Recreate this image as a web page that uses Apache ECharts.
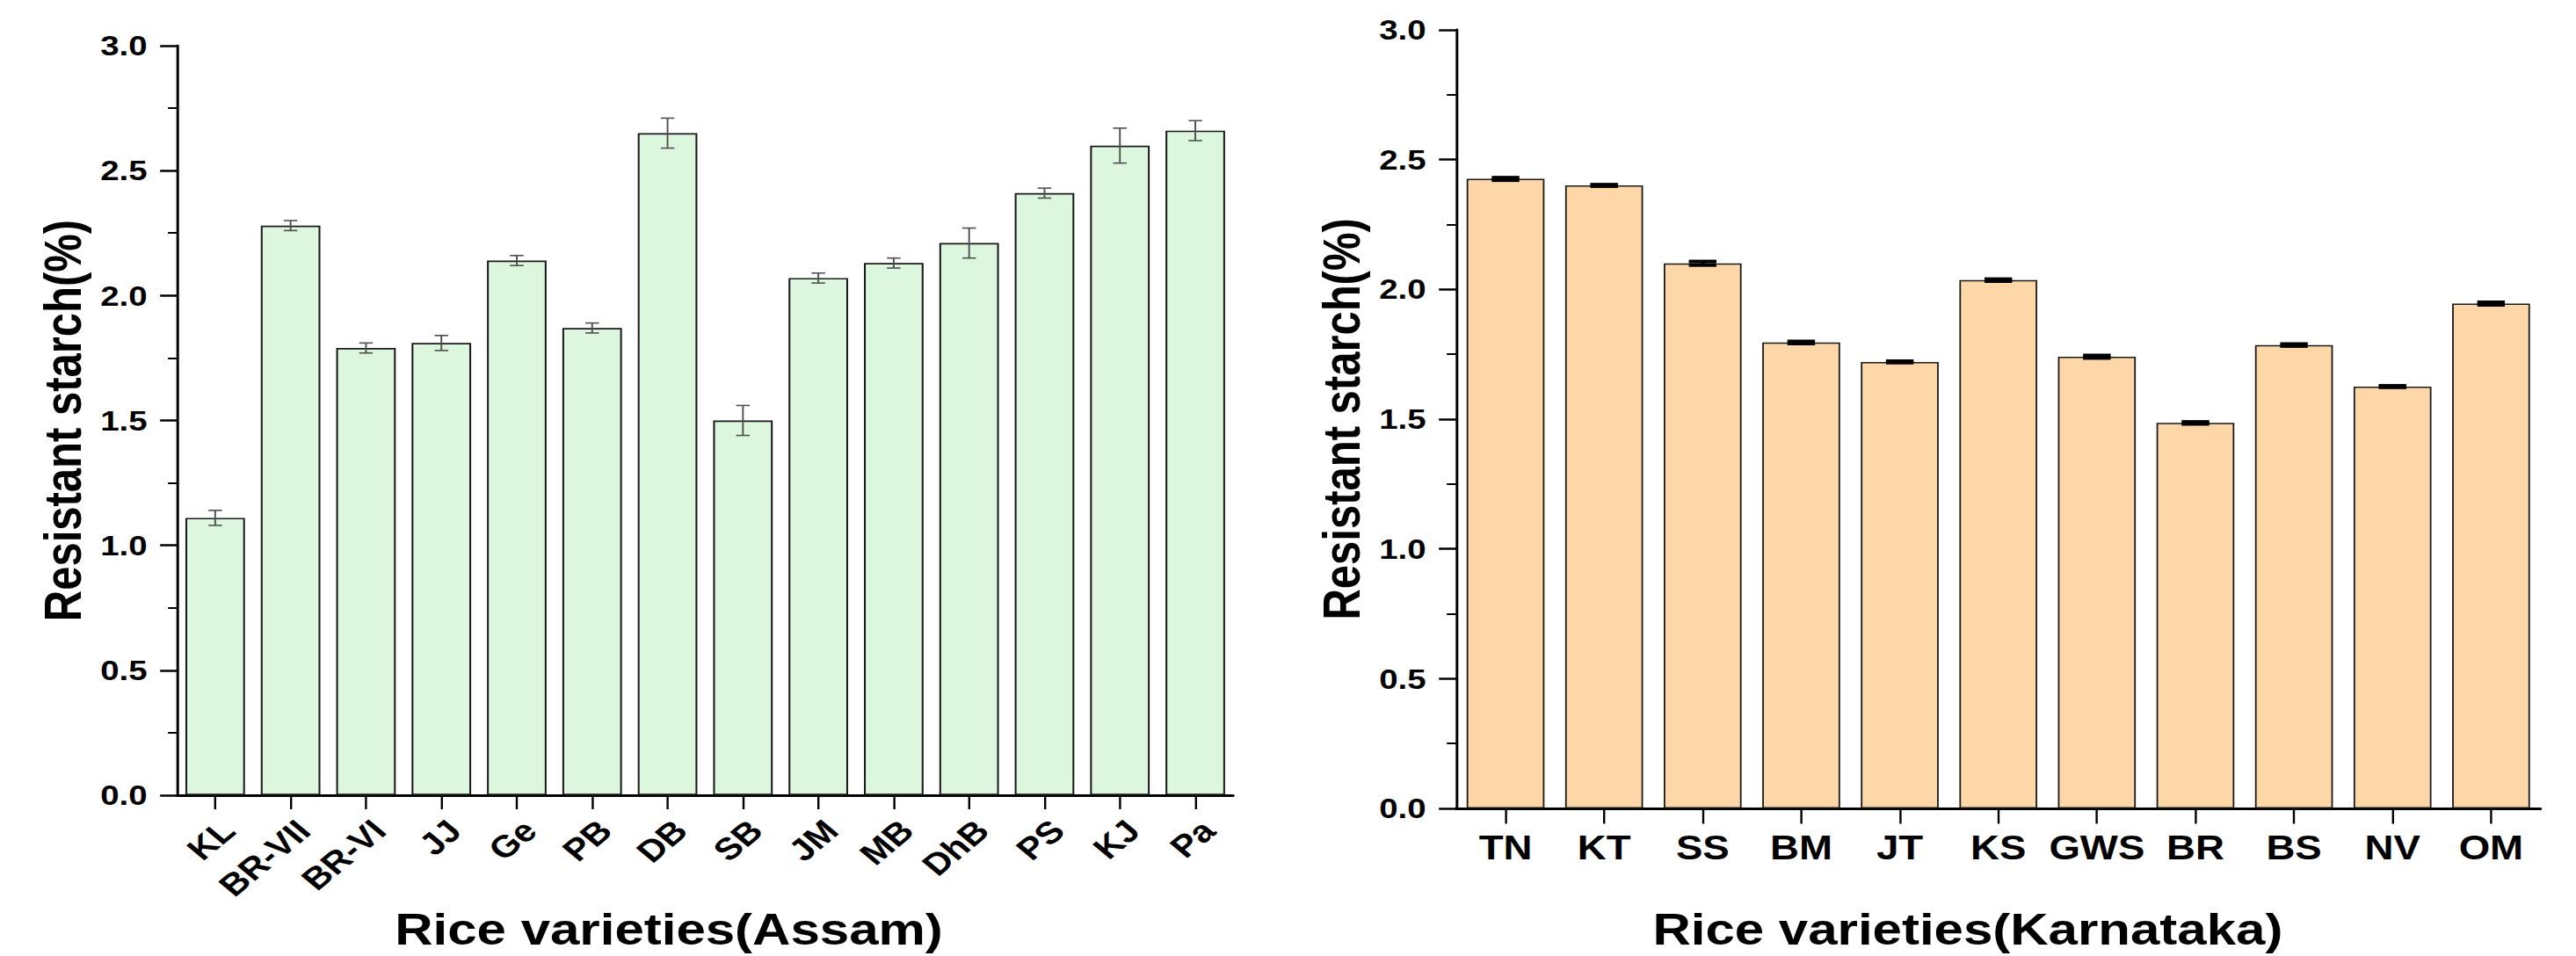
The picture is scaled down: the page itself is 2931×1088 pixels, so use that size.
<!DOCTYPE html>
<html>
<head>
<meta charset="utf-8">
<script src="https://cdn.jsdelivr.net/npm/echarts@6/dist/echarts.min.js"></script>
<style>
  html, body { margin: 0; padding: 0; background: #ffffff; overflow: hidden; }
  #chart { width: 2442.5px; height: 1088px; transform: scaleX(1.2); transform-origin: 0 0; }
</style>
</head>
<body>
<div id="chart"></div>
<script>
// ---- data ----
const assamCategories = ['KL', 'BR-VII', 'BR-VI', 'JJ', 'Ge', 'PB', 'DB', 'SB', 'JM', 'MB', 'DhB', 'PS', 'KJ', 'Pa'];
const assamValues = [1.11, 2.28, 1.79, 1.81, 2.14, 1.87, 2.65, 1.50, 2.07, 2.13, 2.21, 2.41, 2.60, 2.66];
const assamErrors = [0.03, 0.02, 0.02, 0.03, 0.02, 0.02, 0.06, 0.06, 0.02, 0.02, 0.06, 0.02, 0.07, 0.04];

const karnatakaCategories = ['TN', 'KT', 'SS', 'BM', 'JT', 'KS', 'GWS', 'BR', 'BS', 'NV', 'OM'];
const karnatakaValues = [2.425, 2.40, 2.10, 1.795, 1.72, 2.035, 1.74, 1.485, 1.785, 1.625, 1.945];
const karnatakaErrors = [0.005, 0.003, 0.007, 0.004, 0.003, 0.004, 0.005, 0.004, 0.004, 0.003, 0.005];

const yMin = 0, yMax = 3.0, yInterval = 0.5;
const yTitle = 'Resistant starch(%)';
const xTitleAssam = 'Rice varieties(Assam)';
const xTitleKarnataka = 'Rice varieties(Karnataka)';

// ---- styling ----
const FONT = "'Liberation Sans', Arial, Helvetica, sans-serif";

function errorRender(capFrac, color, lw) {
  return function (params, api) {
    const i = api.value(0), v = api.value(1), e = api.value(2);
    const top = api.coord([i, v + e]);
    const bot = api.coord([i, v - e]);
    const hw = api.size([1, 0])[0] * capFrac;
    const style = { stroke: color, lineWidth: lw, fill: null };
    return {
      type: 'group',
      children: [
        { type: 'line', shape: { x1: top[0], y1: top[1], x2: bot[0], y2: bot[1] }, style: style },
        { type: 'line', shape: { x1: top[0] - hw, y1: top[1], x2: top[0] + hw, y2: top[1] }, style: style },
        { type: 'line', shape: { x1: bot[0] - hw, y1: bot[1], x2: bot[0] + hw, y2: bot[1] }, style: style }
      ]
    };
  };
}

function yAxisCfg(gridIndex) {
  return {
    gridIndex: gridIndex,
    type: 'value',
    min: yMin, max: yMax, interval: yInterval,
    axisLine: { show: true, lineStyle: { color: '#000', width: 2.5 } },
    axisTick: { show: true, length: 16.5, lineStyle: { color: '#000', width: 2.5 } },
    minorTick: { show: true, splitNumber: 2, length: 9, lineStyle: { color: '#000', width: 2 } },
    splitLine: { show: false },
    minorSplitLine: { show: false },
    axisLabel: {
      margin: 28.6, fontSize: 32, fontWeight: 'bold', color: '#000', fontFamily: FONT,
      formatter: function (v) { return v.toFixed(1); }
    },
    name: yTitle,
    nameLocation: 'middle',
    nameGap: 84,
    nameTextStyle: { fontSize: 49, fontWeight: 'bold', color: '#000', fontFamily: FONT }
  };
}

const chart = echarts.init(document.getElementById('chart'), null, { renderer: 'svg' });

const option = {
  animation: false,
  backgroundColor: '#ffffff',
  grid: [
    { left: 168.3, top: 52, width: 1000.8, height: 867 },
    { left: 1380.8, top: 33.75, width: 1027.9, height: 889.6 }
  ],
  xAxis: [
    {
      gridIndex: 0,
      type: 'category',
      data: assamCategories,
      boundaryGap: true,
      axisLine: { show: true, lineStyle: { color: '#000', width: 3 } },
      axisTick: { show: true, alignWithLabel: true, length: 16, lineStyle: { color: '#000', width: 2 } },
      axisLabel: {
        interval: 0, rotate: 45, verticalAlign: 'top', margin: 22,
        fontSize: 35, fontWeight: 'bold', color: '#000', fontFamily: FONT
      },
      name: xTitleAssam,
      nameLocation: 'middle',
      nameGap: 128,
      nameTextStyle: { fontSize: 50, fontWeight: 'bold', color: '#000', fontFamily: FONT, padding: [0, 69, 0, 0] }
    },
    {
      gridIndex: 1,
      type: 'category',
      data: karnatakaCategories,
      boundaryGap: true,
      axisLine: { show: true, lineStyle: { color: '#000', width: 3 } },
      axisTick: { show: true, alignWithLabel: true, length: 17.5, lineStyle: { color: '#000', width: 2 } },
      axisLabel: {
        interval: 0, margin: 26,
        fontSize: 38, fontWeight: 'bold', color: '#000', fontFamily: FONT
      },
      name: xTitleKarnataka,
      nameLocation: 'middle',
      nameGap: 113,
      nameTextStyle: { fontSize: 50, fontWeight: 'bold', color: '#000', fontFamily: FONT, padding: [0, 58, 0, 0] }
    }
  ],
  yAxis: [yAxisCfg(0), yAxisCfg(1)],
  series: [
    {
      type: 'bar',
      xAxisIndex: 0, yAxisIndex: 0,
      data: assamValues,
      barCategoryGap: '21%',
      itemStyle: { color: '#ddf6de', borderColor: '#1a1a1a', borderWidth: 1.7 },
      z: 2
    },
    {
      type: 'custom',
      xAxisIndex: 0, yAxisIndex: 0,
      data: assamValues.map(function (v, i) { return [i, v, assamErrors[i]]; }),
      encode: { x: 0, y: 1 },
      renderItem: errorRender(0.09, '#505050', 1.6),
      z: 3
    },
    {
      type: 'bar',
      xAxisIndex: 1, yAxisIndex: 1,
      data: karnatakaValues,
      barCategoryGap: '21%',
      itemStyle: { color: '#fdd7a7', borderColor: '#1a1a1a', borderWidth: 1.5 },
      z: 2
    },
    {
      type: 'custom',
      xAxisIndex: 1, yAxisIndex: 1,
      data: karnatakaValues.map(function (v, i) { return [i, v, karnatakaErrors[i]]; }),
      encode: { x: 0, y: 1 },
      renderItem: errorRender(0.14, '#000000', 4),
      z: 3
    }
  ]
};

chart.setOption(option);
</script>
</body>
</html>
